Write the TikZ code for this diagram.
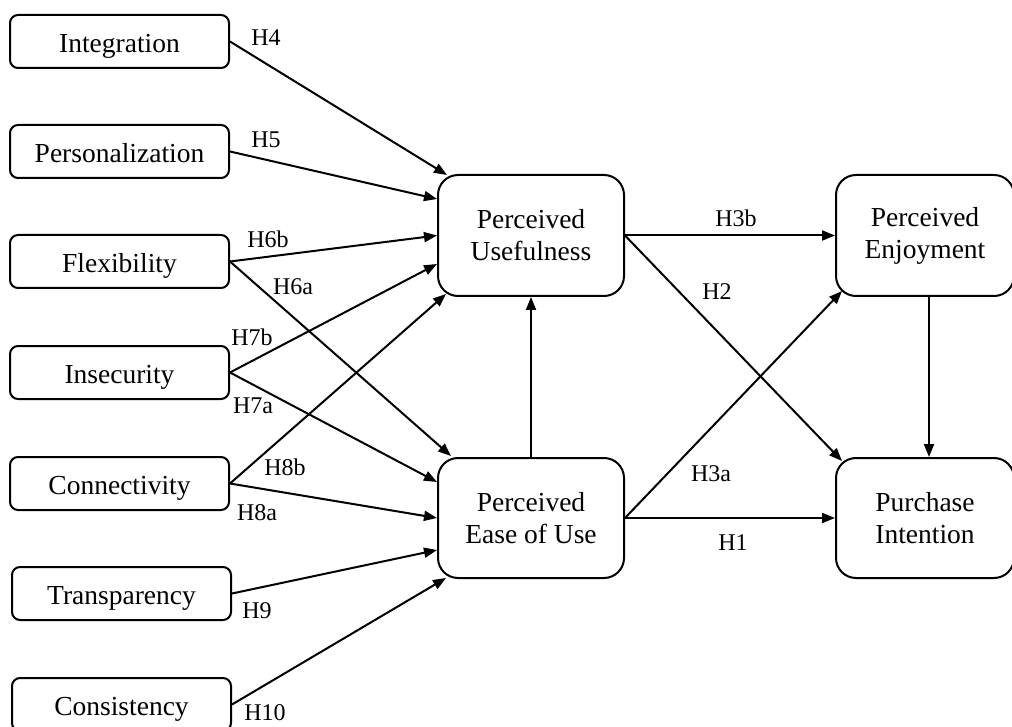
\documentclass[tikz,border=0pt]{standalone}
\usepackage{fontspec}
\setmainfont{Liberation Serif}
\usetikzlibrary{arrows.meta,calc}
\tikzset{
  leftbox/.style={draw, line width=2pt, rounded corners=8pt, minimum width=219pt, minimum height=53pt, inner sep=0pt, text height=24pt, text depth=2pt, font=\fontsize{27.5}{33}\selectfont},
  bigbox/.style={draw, line width=2pt, rounded corners=20pt, minimum height=121pt, align=center, inner sep=0pt, font=\fontsize{27.5}{32}\selectfont},
  lab/.style={inner sep=0pt, font=\fontsize{24}{28}\selectfont},
  arr/.style={-{Triangle[length=13pt,width=10pt]}, line width=2pt},
}
\begin{document}
\begin{tikzpicture}[x=1pt,y=-1pt]
\clip (0,0) rectangle (1012,727);
\fill[white] (0,0) rectangle (1012,727);
% left boxes
\node[leftbox] (int)   at (119.5,41.5)  {Integration};
\node[leftbox] (per)   at (119.5,151.5) {Personalization};
\node[leftbox] (flex)  at (119.5,261.5) {Flexibility};
\node[leftbox] (insec) at (119.5,372.5) {Insecurity};
\node[leftbox] (conn)  at (119.5,483.5) {Connectivity};
\node[leftbox] (trans) at (121.5,593.5) {Transparency};
\node[leftbox] (cons)  at (121.5,704.5) {Consistency};
% central and right boxes
\node[bigbox, minimum width=186pt] (pu)   at (531,235.5) {Perceived\\Usefulness};
\node[bigbox, minimum width=186pt, minimum height=120pt] (peou) at (531,518) {Perceived\\Ease of Use};
\node[bigbox, minimum width=178pt] (pe)   at (925,235.5) {Perceived\\Enjoyment};
\node[bigbox, minimum width=178pt, minimum height=120pt] (pi)   at (925,518) {Purchase\\Intention};
% connectors from the left
\draw[arr] (int.east)   -- ($(pu.north west)+(10,1)$);
\draw[arr] (per.east)   -- ($(pu.west)+(0,-36.5)$);
\draw[arr] (flex.east)  -- (pu.west);
\draw[arr] (flex.east)  -- ($(peou.north west)+(14,-1)$);
\draw[arr] (insec.east) -- ($(pu.west)+(0,28.5)$);
\draw[arr] (insec.east) -- ($(peou.west)+(0,-36)$);
\draw[arr] (conn.east)  -- ($(pu.south west)+(9,-3)$);
\draw[arr] (conn.east)  -- (peou.west);
\draw[arr] (trans.east) -- ($(peou.west)+(0,32)$);
\draw[arr] (cons.east)  -- ($(peou.south west)+(9,-1)$);
% central connectors
\draw[arr] (peou.north) -- (pu.south);
\draw[arr] (pu.east) -- (pe.west);
\draw[arr] (pu.east) -- ($(pi.north west)+(7,4)$);
\draw[arr] (peou.east) -- (pi.west);
\draw[arr] (peou.east) -- ($(pe.south west)+(7,-6)$);
\draw[arr] ($(pe.south)+(4,0)$) -- ($(pi.north)+(4,0)$);
% labels
\node[lab] (h4)  at (266,38)  {H4};
\node[lab] (h5)  at (266,140) {H5};
\node[lab] (h6b) at (268,239) {H6b};
\node[lab] (h6a) at (293,287) {H6a};
\node[lab] (h7b) at (252,337) {H7b};
\node[lab] (h7a) at (253,406) {H7a};
\node[lab] (h8b) at (285,467) {H8b};
\node[lab] (h8a) at (257,513) {H8a};
\node[lab] (h9)  at (257,611) {H9};
\node[lab] (h10) at (265,713) {H10};
\node[lab] (h3b) at (736,218) {H3b};
\node[lab] (h2)  at (717,292) {H2};
\node[lab] (h3a) at (711,474) {H3a};
\node[lab] (h1)  at (733,543) {H1};
\end{tikzpicture}
\end{document}
